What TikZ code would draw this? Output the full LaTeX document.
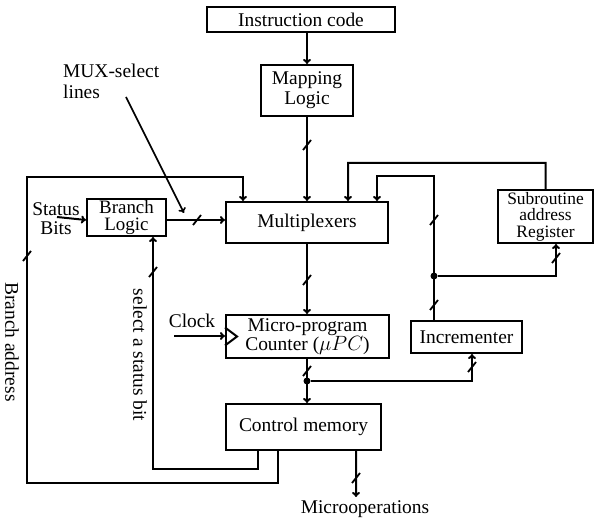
\documentclass[tikz,border=0pt]{standalone}
\usepackage{fontspec}
\setmainfont{Liberation Serif}
\usetikzlibrary{arrows.meta,calc}
\begin{document}
\begin{tikzpicture}[x=1bp,y=-1bp,
  every node/.style={font=\fontsize{19.5}{20}\selectfont},
  blk/.style={draw,line width=2bp,inner sep=0pt,align=center},
  wire/.style={line width=2bp},
  >={To[length=5bp,width=8bp]},
  busmark/.pic={\draw[line width=1.8bp] (-4,5)--(4,-5);},
  jdot/.style={circle,fill,inner sep=0pt,minimum size=7bp}]
\useasboundingbox (0,0) rectangle (594,519);
% boxes
\node[blk,minimum width=188bp,minimum height=25bp] (ic) at (301,19.5) {Instruction code};
\node[blk,minimum width=92bp,minimum height=51bp] (ml) at (307,90.5) {Mapping\\Logic};
\node[blk,minimum width=162bp,minimum height=41bp] (mux) at (307,222.5) {Multiplexers};
\node[blk,minimum width=79bp,minimum height=37bp,font=\fontsize{19}{17.5}\selectfont] (bl) at (126.5,217.5) {Branch\\Logic};
\node[blk,minimum width=163bp,minimum height=43bp] (pc) at (307.5,336.5) {Micro-program\\[-1bp]Counter ($\mu PC$)};
\node[blk,minimum width=95bp,minimum height=53bp] (sar) at (545.5,216.5) {};
\node[align=center,font=\fontsize{17.5}{16.5}\selectfont,inner sep=0pt] (sart) at (sar) {Subroutine\\address\\Register};
\node[blk,minimum width=155bp,minimum height=46bp] (cm) at (303.5,427) {Control memory};
\node[blk,minimum width=111bp,minimum height=32bp] (inc) at (466.5,337) {Incrementer};
% labels
\node[align=center] (sb) at (56,219) {Status\\[-1bp]Bits};
\node[align=left,anchor=north west,inner sep=0pt] (msl) at (63,64) {MUX-select\\[1bp]lines};
\node (clk) at (192,321) {Clock};
\node[rotate=-90] (ba) at (12,342) {Branch address};
\node[rotate=-90] (ssb) at (140,355) {select a status bit};
\node (mo) at (365,509) {Microoperations};
% coordinates
\coordinate (sbs) at (57,217);
\coordinate (msa) at (126,97);
\coordinate (mse) at (184,213);
\coordinate (clks) at (174,336);
\coordinate (d1) at (307,381);
\coordinate (d2) at (434,276);
% connectors
\draw[wire,->] (ic.south -| ml.north) -- (ml.north);
\draw[wire,->] (ml.south) -- (mux.north);
\draw[wire,->] (sbs) -- (bl.west |- 0,220);
\draw[wire,->] (bl.east |- 0,220) -- (mux.west |- 0,220);
\draw[line width=1.6bp,->] (msa) -- (mse);
\draw[wire,->] ([xshift=-25.5bp]cm.south) |- (27,483) -- (27,177) -| ([xshift=-64bp]mux.north);
\draw[wire,->] ([xshift=-45.5bp]cm.south) |- (153,469) -- (bl.south -| 153,0);
\draw[wire,->] (mux.south) -- (pc.north -| mux.south);
\draw[wire,->] (clks) -- (pc.west |- clks);
\draw[wire,line join=miter] ([yshift=9bp]pc.west) -- ++(12,9) -- ++(-12,9);
\draw[wire,->] (pc.south -| d1) -- (cm.north -| d1);
\node[jdot] (j1) at (d1) {};
\draw[wire,->] (j1) -| ([xshift=5.5bp]inc.south);
\draw[wire,->] (inc.north -| d2) -- (434,176) -| ([xshift=70bp]mux.north);
\node[jdot] (j2) at (d2) {};
\draw[wire,->] (j2) -| ([xshift=10.5bp]sar.south);
\draw[wire,->] (sar.north) |- (348,163) -- ([xshift=41bp]mux.north);
\draw[wire,->] ([xshift=52.5bp]cm.south) -- (mo.north -| 356,0);
% bus marks
\pic at (307,145) {busmark};
\pic at (197,220) {busmark};
\pic at (27,256) {busmark};
\pic at (153,272) {busmark};
\pic at (307,280) {busmark};
\pic at (307,371) {busmark};
\pic at (472,367) {busmark};
\pic at (434,220) {busmark};
\pic at (434,305) {busmark};
\pic at (556,258) {busmark};
\pic at (356,478) {busmark};
\end{tikzpicture}
\end{document}
